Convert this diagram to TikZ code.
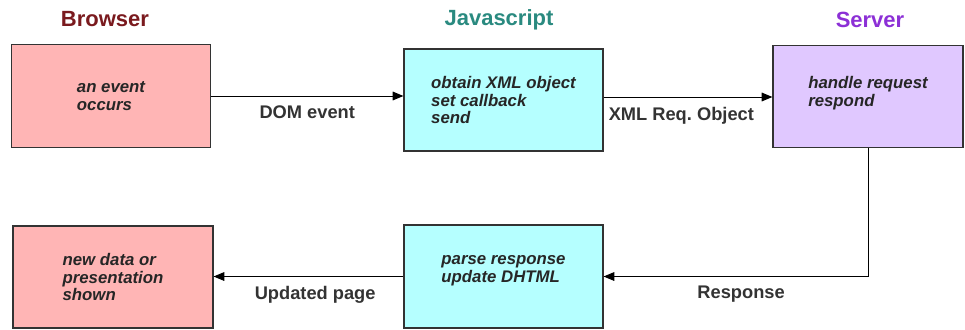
\documentclass[tikz,border=0pt]{standalone}
\usepackage{fontspec}
\setmainfont{Liberation Sans}
\usepackage{tikz}
\usetikzlibrary{arrows.meta,calc}
\frenchspacing

\definecolor{brwfill}{RGB}{255,181,181}
\definecolor{jsfill}{RGB}{181,255,255}
\definecolor{srvfill}{RGB}{224,200,255}
\definecolor{brwtitle}{RGB}{122,26,30}
\definecolor{jstitle}{RGB}{42,138,128}
\definecolor{srvtitle}{RGB}{140,48,214}
\definecolor{edgegray}{RGB}{51,51,51}

\tikzset{
  stagebox/.style={draw=edgegray, line width=0.9pt, minimum width=149.25pt, minimum height=76.5pt,
    inner sep=0pt, align=left, text=black!85,
    font=\fontsize{12.6}{13.4}\selectfont\bfseries\itshape},
  title/.style={inner sep=0pt, font=\fontsize{16.5}{18}\selectfont\bfseries},
  flowlabel/.style={inner sep=0pt, text=edgegray, font=\fontsize{13.7}{15}\selectfont\bfseries},
  flow/.style={line width=0.75pt, -{Triangle[length=8pt,width=6.5pt]}}
}

\begin{document}
\begin{tikzpicture}[x=0.75pt,y=0.75pt,yscale=-1,xscale=1]
\useasboundingbox (0,0) rectangle (965,329);

% Titles
\node[title, text=brwtitle] (brwhead) at (105,19) {Browser};
\node[title, text=jstitle] (jshead) at (499,20) {Javascript};
\node[title, text=srvtitle] (srvhead) at (870,20) {Server};

%Shape: Rectangle - top row
\node[stagebox, fill=brwfill, minimum height=77.25pt] (event) at (111,96) {an event\\occurs};
\node[stagebox, fill=jsfill] (obtain) at (503.5,100) {obtain XML object\\set callback\\send};
\node[stagebox, fill=srvfill, minimum width=142.5pt] (handle) at (868,96.5) {handle request\\respond\\[-5.9pt]};

%Shape: Rectangle - bottom row
\node[stagebox, fill=brwfill, minimum width=150pt] (shown) at (113,277) {new data or\\presentation\\shown};
\node[stagebox, fill=jsfill, minimum height=77.25pt] (parse) at (503.5,276.5) {parse response\\update DHTML\\[-2.2pt]};

%Straight Lines
\draw[flow] (event.east) -- (event.east -| obtain.west)
  node[flowlabel, midway, below=7pt] (domlbl) {DOM event};
\draw[flow] (obtain.east |- 0,97) -- (handle.west |- 0,97)
  node[flowlabel, midway, below=7pt, xshift=-5pt] (xmllbl) {XML Req. Object};
\coordinate (turn) at (handle.south |- parse.east);
\draw[flow] (handle.south) -- (turn) -- (parse.east);
\node[flowlabel, below=7pt] (resplbl) at ($(turn)!0.48!(parse.east)$) {Response};
\draw[flow] (parse.west) -- (parse.west -| shown.east)
  node[flowlabel, midway, below=7pt, xshift=5pt] (updlbl) {Updated page};

\end{tikzpicture}
\end{document}
